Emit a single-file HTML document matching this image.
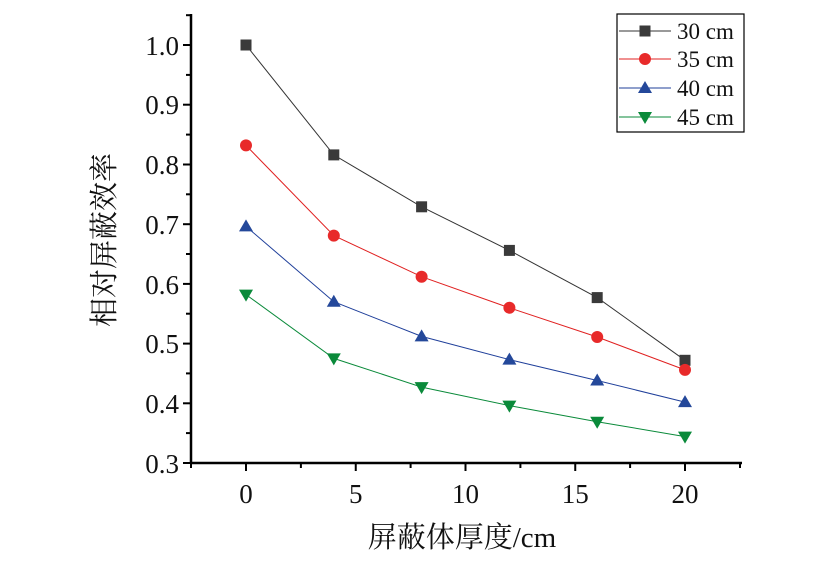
<!DOCTYPE html>
<html><head><meta charset="utf-8"><style>
html,body{margin:0;padding:0;background:#fff;}
svg{display:block;font-family:"Liberation Serif","Noto Serif CJK SC",serif;}
</style></head><body>
<svg width="820" height="561" viewBox="0 0 820 561" xmlns="http://www.w3.org/2000/svg">
<defs>
<rect id="sq" x="-5.5" y="-5.5" width="11" height="11" fill="#3a3a3a"/>
<circle id="ci" r="6" fill="#e82a2a"/>
<polygon id="tu" points="0,-7 7,5 -7,5" fill="#24489a"/>
<polygon id="td" points="0,7 7,-5 -7,-5" fill="#0a8a3a"/>
</defs>
<g stroke="#000" stroke-width="2.5" fill="none">
<line x1="191" y1="14" x2="191" y2="464"/>
<line x1="190" y1="463" x2="742" y2="463"/>
</g>
<g stroke="#000" stroke-width="2">
<line x1="183" y1="463" x2="191" y2="463"/><line x1="183" y1="403.3" x2="191" y2="403.3"/><line x1="183" y1="343.6" x2="191" y2="343.6"/><line x1="183" y1="283.9" x2="191" y2="283.9"/><line x1="183" y1="224.2" x2="191" y2="224.2"/><line x1="183" y1="164.5" x2="191" y2="164.5"/><line x1="183" y1="104.7" x2="191" y2="104.7"/><line x1="183" y1="45" x2="191" y2="45"/>
<line x1="186" y1="433.1" x2="191" y2="433.1"/><line x1="186" y1="373.4" x2="191" y2="373.4"/><line x1="186" y1="313.7" x2="191" y2="313.7"/><line x1="186" y1="254" x2="191" y2="254"/><line x1="186" y1="194.3" x2="191" y2="194.3"/><line x1="186" y1="134.6" x2="191" y2="134.6"/><line x1="186" y1="74.9" x2="191" y2="74.9"/><line x1="186" y1="15.2" x2="191" y2="15.2"/>
<line x1="246" y1="463" x2="246" y2="471"/><line x1="355.75" y1="463" x2="355.75" y2="471"/><line x1="465.5" y1="463" x2="465.5" y2="471"/><line x1="575.25" y1="463" x2="575.25" y2="471"/><line x1="685" y1="463" x2="685" y2="471"/>
<line x1="191" y1="463" x2="191" y2="468"/><line x1="300.9" y1="463" x2="300.9" y2="468"/><line x1="410.6" y1="463" x2="410.6" y2="468"/><line x1="520.4" y1="463" x2="520.4" y2="468"/><line x1="630.1" y1="463" x2="630.1" y2="468"/><line x1="740" y1="463" x2="740" y2="468"/>
</g>
<g font-size="27" fill="#111" text-anchor="end">
<text x="179" y="473">0.3</text><text x="179" y="413">0.4</text><text x="179" y="353">0.5</text><text x="179" y="294">0.6</text><text x="179" y="234">0.7</text><text x="179" y="174">0.8</text><text x="179" y="114">0.9</text><text x="179" y="55">1.0</text>
</g>
<g font-size="27" fill="#111" text-anchor="middle">
<text x="246" y="503">0</text><text x="355.75" y="503">5</text><text x="465.5" y="503">10</text><text x="575.25" y="503">15</text><text x="685" y="503">20</text>
<text x="462" y="547" font-size="29">屏蔽体厚度/cm</text>
<text transform="translate(114,240) rotate(-90)" font-size="29">相对屏蔽效率</text>
</g>
<polyline fill="none" stroke="#333" stroke-width="1" points="246,45 333.8,154.9 421.6,206.8 509.4,250.4 597.2,297.6 685,360.3"/>
<polyline fill="none" stroke="#e02020" stroke-width="1" points="246,145.4 333.8,235.6 421.6,276.7 509.4,307.8 597.2,337 685,369.9"/>
<polyline fill="none" stroke="#1f3f9a" stroke-width="1" points="246,226.4 333.8,301.7 421.6,336.4 509.4,359.6 597.2,380.5 685,402.1"/>
<polyline fill="none" stroke="#0a8a3a" stroke-width="1" points="246,294.6 333.8,358.4 421.6,387.1 509.4,405.6 597.2,421.7 685,436.6"/>
<g>
<use href="#sq" x="246" y="45"/><use href="#sq" x="333.8" y="154.9"/><use href="#sq" x="421.6" y="206.8"/><use href="#sq" x="509.4" y="250.4"/><use href="#sq" x="597.2" y="297.6"/><use href="#sq" x="685" y="360.3"/>
<use href="#ci" x="246" y="145.4"/><use href="#ci" x="333.8" y="235.6"/><use href="#ci" x="421.6" y="276.7"/><use href="#ci" x="509.4" y="307.8"/><use href="#ci" x="597.2" y="337"/><use href="#ci" x="685" y="369.9"/>
<use href="#tu" x="246" y="226.4"/><use href="#tu" x="333.8" y="301.7"/><use href="#tu" x="421.6" y="336.4"/><use href="#tu" x="509.4" y="359.6"/><use href="#tu" x="597.2" y="380.5"/><use href="#tu" x="685" y="402.1"/>
<use href="#td" x="246" y="294.6"/><use href="#td" x="333.8" y="358.4"/><use href="#td" x="421.6" y="387.1"/><use href="#td" x="509.4" y="405.6"/><use href="#td" x="597.2" y="421.7"/><use href="#td" x="685" y="436.6"/>
</g>
<rect x="617" y="14" width="127" height="118" fill="#fff" stroke="#000" stroke-width="1.2"/>
<line x1="619" y1="31" x2="671" y2="31" stroke="#333" stroke-width="1"/><use href="#sq" x="645" y="31"/>
<line x1="619" y1="59" x2="671" y2="59" stroke="#e02020" stroke-width="1"/><use href="#ci" x="645" y="59"/>
<line x1="619" y1="88" x2="671" y2="88" stroke="#1f3f9a" stroke-width="1"/><use href="#tu" x="645" y="88"/>
<line x1="619" y1="117" x2="671" y2="117" stroke="#0a8a3a" stroke-width="1"/><use href="#td" x="645" y="117"/>
<g font-size="23" fill="#111">
<text x="677" y="39">30 cm</text><text x="677" y="67">35 cm</text><text x="677" y="96">40 cm</text><text x="677" y="125">45 cm</text>
</g>
</svg>
</body></html>
